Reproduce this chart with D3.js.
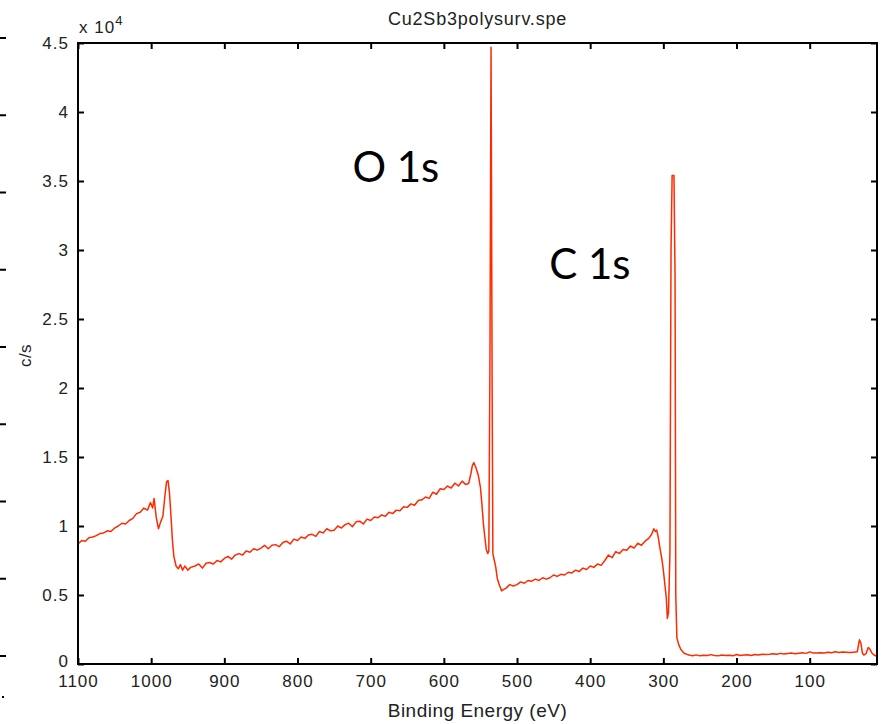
<!DOCTYPE html>
<html>
<head>
<meta charset="utf-8">
<script src="https://cdn.jsdelivr.net/npm/d3@7"></script>
<style>
  body { margin: 0; background: #fff; }
  svg { display: block; font-family: "Liberation Sans", Arial, sans-serif; }
</style>
</head>
<body>
<script>

// XPS survey spectrum (binding energy in eV, counts in c/s)
var bindingEnergy = [
    1100, 1095, 1090, 1085, 1080, 1075, 1070, 1065, 1060, 1055, 1050, 1045, 1040, 1035, 1030, 1025, 1020, 1015, 1010, 1005,
    1001, 998, 996, 993, 990, 987, 984, 981, 979, 977, 975, 973, 971, 969, 966, 963, 960, 957, 954, 950, 946,
    940, 935, 930, 925, 920, 915, 910, 905, 900, 895, 890, 885, 880, 875, 870, 865, 860, 855, 850, 845, 840, 835, 830, 825,
    820, 815, 810, 805, 800, 795, 790, 785, 780, 775, 770, 765, 760, 755, 750, 745, 740, 735, 730, 725, 720, 715, 710, 705,
    700, 695, 690, 685, 680, 675, 670, 665, 660, 655, 650, 645, 640, 635, 630, 625, 620, 615, 610, 605, 600,
    595, 590, 585, 580, 575, 570, 566, 563, 561, 559, 556, 553, 550, 548, 546, 544, 542, 540, 538.5,
    537, 535.5, 534, 533, 531, 529, 527, 524, 521, 518,
    515, 510, 505, 500, 495, 490, 485, 480, 475, 470, 465, 460, 455, 450, 445, 440, 435, 430, 425, 420,
    415, 410, 405, 400, 395, 390, 385, 380, 375, 370, 365, 360, 355, 350, 345, 340, 335, 330, 325, 320,
    316, 313, 311, 309, 307, 305, 302, 300, 298, 296, 294.5, 293, 291, 289.5, 288, 285.5, 284, 283, 281.5, 279, 276, 272, 268,
    265, 260, 255, 250, 245, 240, 235, 230, 225, 220, 215, 210, 205, 200, 195, 190, 185, 180, 175, 170, 165, 160, 155, 150,
    145, 140, 135, 130, 125, 120, 115, 110, 105, 100, 95, 90, 85, 80, 75, 70, 65, 60, 55, 50, 45, 40, 35,
    32, 30, 28, 26, 23, 20, 18, 15, 12, 8
];

var counts = [
    8700, 8950, 8900, 9150, 9200, 9300, 9450, 9500, 9650, 9600, 9850, 10000, 10200, 10150, 10400, 10550, 10900, 11000, 11300, 11150,
    11700, 11300, 12000, 10600, 9800, 10300, 10700, 12300, 13200, 13300, 12400, 10800, 9000, 7800, 7100, 6900, 7200, 6800, 7100, 6800, 7000,
    7100, 7250, 6950, 7300, 7350, 7250, 7500, 7400, 7650, 7800, 7600, 7900, 8000, 7900, 8200, 8100, 8350, 8250, 8400, 8600, 8350, 8600, 8650, 8500,
    8800, 8900, 8700, 9050, 8950, 9200, 9100, 9350, 9400, 9250, 9600, 9500, 9800, 9650, 9700, 10000, 9850, 10100, 10200, 9950, 10300, 10350, 10150, 10500,
    10400, 10650, 10600, 10800, 10700, 11000, 10900, 11150, 11100, 11400, 11350, 11600, 11500, 11850, 11900, 12100, 12000, 12450, 12300, 12700, 12650,
    12900, 12750, 13100, 12900, 13250, 13000, 13100, 13800, 14400, 14600, 14200, 13700, 12800, 11600, 10200, 9200, 8300, 8000, 8200,
    22000, 44700, 20000, 8000, 7500, 7000, 6200, 5700, 5300, 5400,
    5500, 5750, 5650, 5750, 5950, 5850, 6050, 6000, 6150, 6050, 6250, 6150, 6250, 6450, 6350, 6500, 6450, 6650, 6600, 6800,
    6700, 6950, 6850, 7100, 7000, 7250, 7150, 7500, 7900, 7700, 8150, 8000, 8300, 8250, 8550, 8400, 8750, 8600, 8900, 9100,
    9400, 9800, 9600, 9700, 9200, 8500, 7600, 6800, 5800, 4800, 3300, 3700, 8000, 30000, 35400, 35400, 28000, 5000, 1900, 1400, 1050, 800, 700,
    650, 600, 660, 590, 640, 610, 680, 620, 590, 650, 610, 630, 590, 690, 610, 650, 670, 620, 690, 650, 710, 680, 700, 740,
    700, 770, 720, 760, 790, 750, 780, 810, 770, 880, 800, 790, 820, 800, 850, 810, 890, 830, 870, 850, 830, 860, 880,
    1750, 1500, 800, 650, 750, 1200, 1100, 800, 650, 550
];

var xTicks = [1100, 1000, 900, 800, 700, 600, 500, 400, 300, 200, 100];
var yTicks = [0, 5000, 10000, 15000, 20000, 25000, 30000, 35000, 40000, 45000];
var yTickLabels = ["0", "0.5", "1", "1.5", "2", "2.5", "3", "3.5", "4", "4.5"];

var peakLabels = ["O 1s", "C 1s"];
var peakLabelPos = [[725, 34900], [456, 27900]]; // [eV, c/s] of the text baseline start

var title = "Cu2Sb3polysurv.spe";
var xTitle = "Binding Energy (eV)";
var yTitle = "c/s";

var W = 885, H = 724;
var margin = { top: 43, right: 8, bottom: 60, left: 78 };
var width = W - margin.left - margin.right;
var height = H - margin.top - margin.bottom;

var data = bindingEnergy.map(function (e, i) { return [e, counts[i]]; });

var svg = d3.select("body").append("svg")
    .attr("width", W)
    .attr("height", H);

// leftover tick marks of a neighbouring figure at the far left edge
var edge = d3.scaleLinear().domain([0, 8]).range([38, 656]);
svg.append("g").selectAll("line")
    .data(d3.range(9))
    .enter().append("line")
    .attr("x1", 0).attr("x2", 6)
    .attr("y1", function (d) { return edge(d); })
    .attr("y2", function (d) { return edge(d); })
    .attr("stroke", "#000")
    .attr("stroke-width", 2);
svg.append("rect").attr("x", 2).attr("y", 696).attr("width", 2).attr("height", 2).attr("fill", "#000");

var g = svg.append("g")
    .attr("transform", "translate(" + margin.left + "," + margin.top + ")");

var x = d3.scaleLinear()
    .domain([1100, 8])
    .range([0, width]);

var y = d3.scaleLinear()
    .domain([0, 45000])
    .range([height, 0]);

// spectrum
var line = d3.line()
    .x(function (d) { return x(d[0]); })
    .y(function (d) { return y(d[1]); });

g.append("path")
    .datum(data)
    .attr("fill", "none")
    .attr("stroke", "#ff2a00")
    .attr("stroke-width", 1.5)
    .attr("stroke-linejoin", "round")
    .attr("d", line);

// axes, matlab style: ticks inside on all four sides
var tl = 6;
var xAxis = d3.axisBottom(x).tickValues(xTicks).tickSize(-tl).tickPadding(tl + 5)
    .tickFormat(d3.format("d"));
var xAxisTop = d3.axisTop(x).tickValues(xTicks).tickSize(-tl).tickFormat("");
var yAxis = d3.axisLeft(y).tickValues(yTicks).tickSize(-tl).tickPadding(tl + 3)
    .tickFormat(function (d, i) { return yTickLabels[i]; });
var yAxisRight = d3.axisRight(y).tickValues(yTicks).tickSize(-tl).tickFormat("");

function styleAxis(sel) {
    sel.select(".domain").remove();
    sel.selectAll(".tick line").attr("stroke", "#000").attr("stroke-width", 2);
    sel.selectAll("text")
        .attr("fill", "#222")
        .style("font-size", "17px")
        .style("letter-spacing", "1px");
}

g.append("g").attr("transform", "translate(0," + height + ")").call(xAxis).call(styleAxis);
g.append("g").call(xAxisTop).call(styleAxis);
var yg = g.append("g").call(yAxis).call(styleAxis);
// the zero label sits a touch high so it clears the 1100 below it
yg.selectAll(".tick text").filter(function (d) { return d === 0; }).attr("dy", "0.12em");

g.append("g").attr("transform", "translate(" + width + ",0)").call(yAxisRight).call(styleAxis);

g.append("rect")
    .attr("width", width)
    .attr("height", height)
    .attr("fill", "none")
    .attr("stroke", "#000")
    .attr("stroke-width", 2);

// x 10^4 multiplier
var mult = svg.append("text")
    .attr("x", margin.left + 1)
    .attr("y", 33)
    .style("font-size", "17px")
    .style("letter-spacing", "1px")
    .attr("fill", "#222");
mult.append("tspan").text("x 10");
mult.append("tspan").attr("dy", -8).style("font-size", "13px").text("4");

// title
svg.append("text")
    .attr("x", margin.left + width / 2)
    .attr("y", 25)
    .attr("text-anchor", "middle")
    .style("font-size", "18px")
    .style("letter-spacing", "0.8px")
    .attr("fill", "#222")
    .text(title);

// axis titles
svg.append("text")
    .attr("x", margin.left + width / 2)
    .attr("y", 717)
    .attr("text-anchor", "middle")
    .style("font-size", "19px")
    .style("letter-spacing", "0.5px")
    .attr("fill", "#222")
    .text(xTitle);

svg.append("text")
    .attr("transform", "translate(31," + (margin.top + height / 2 + 2) + ") rotate(-90)")
    .attr("text-anchor", "middle")
    .style("font-size", "17px")
    .style("letter-spacing", "0.5px")
    .attr("fill", "#222")
    .text(yTitle);

// peak labels
g.selectAll(".peak")
    .data(peakLabels)
    .enter().append("text")
    .attr("class", "peak")
    .attr("x", function (d, i) { return x(peakLabelPos[i][0]); })
    .attr("y", function (d, i) { return y(peakLabelPos[i][1]); })
    .style("font-family", "Lato, 'Open Sans', sans-serif")
    .style("font-size", "42px")
    .attr("fill", "#000")
    .text(function (d) { return d; });

</script>
</body>
</html>
